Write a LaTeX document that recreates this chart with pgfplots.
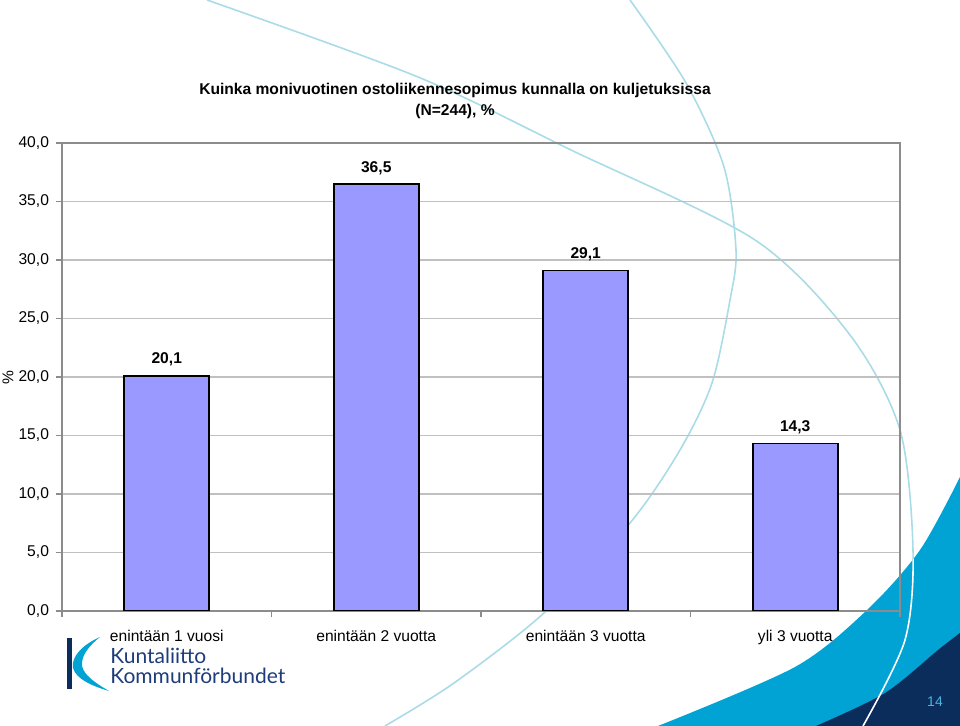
\documentclass[border=0pt]{standalone}
\usepackage{fontspec}
\setmainfont{Liberation Sans}
\newfontfamily\logofont{Lato}
\usepackage{pgfplots}
\usepackage{pgfplotstable}
\pgfplotsset{compat=1.18}
\definecolor{barfill}{HTML}{9999FF}
\definecolor{gridgray}{HTML}{C0C0C0}
\definecolor{axisgray}{HTML}{8C8C8C}
\definecolor{swcyan}{HTML}{00A3D4}
\definecolor{swnavy}{HTML}{0B2D5C}
\definecolor{arcblue}{HTML}{A9DCE6}
\definecolor{logonavy}{HTML}{1E3C7A}
\definecolor{pagenum}{HTML}{4DB3E0}

\pgfplotstableread{
idx val
0 20.1
1 36.5
2 29.1
3 14.3
}\sopimus

\newcommand{\chfont}{\fontsize{7.8}{10.5}\selectfont}

\begin{document}
\begin{tikzpicture}[x=0.5pt,y=0.5pt]
\path[use as bounding box] (0,0) rectangle (960,726);

% slide decoration, pixel coordinates measured from the top
\begin{scope}[shift={(0,726)}, yscale=-1]
\draw[arcblue, line width=0.8pt] plot[smooth] coordinates {(207,0) (418,77) (571,150) (755,240) (850,335) (900,430) (913,550) (905,640) (863,726)};
\draw[arcblue, line width=0.8pt] plot[smooth] coordinates {(630,0) (686,83) (724,167) (736,250) (730,300) (712,383) (680,450) (630,523) (544,613) (454,683) (385,726)};
\fill[swcyan] plot[smooth] coordinates {(658,726) (795,667) (867,610) (920,550) (960,477)} -- (960,726) -- cycle;
\fill[swnavy] plot[smooth] coordinates {(816,726) (885,693) (938,650) (960,633)} -- (960,726) -- cycle;
\begin{scope}
\clip plot[smooth] coordinates {(658,726) (795,667) (867,610) (920,550) (960,477)} -- (960,726) -- cycle;
\draw[white, line width=0.8pt] plot[smooth] coordinates {(207,0) (418,77) (571,150) (755,240) (850,335) (900,430) (913,550) (905,640) (863,726)};
\end{scope}
\node[pagenum, font=\fontsize{7}{8}\selectfont] at (935,702) {14};
% logo
\fill[swnavy] (67,638) rectangle (72,689);
\fill[swcyan] (100,637) .. controls (82,645) and (71,657) .. (73,668) .. controls (76,679) and (92,686) .. (109,691) .. controls (95,683) and (84,675) .. (82,666) .. controls (81,655) and (90,645) .. (100,637) -- cycle;
\node[logonavy, anchor=base west, inner sep=0pt, font=\logofont\fontsize{10.5}{12}\selectfont] at (110,664) {Kuntaliitto};
\node[logonavy, anchor=base west, inner sep=0pt, font=\logofont\fontsize{10.5}{12}\selectfont] at (110,684) {Kommunförbundet};
% title and y label
\node[font=\chfont\bfseries, align=center] at (455,101) {Kuinka monivuotinen ostoliikennesopimus kunnalla on kuljetuksissa\\(N=244), \%};
\node[font=\chfont, rotate=90] at (8,378) {\%};
\end{scope}

\begin{axis}[
  at={(31pt,57.5pt)}, anchor=south west,
  scale only axis, width=419pt, height=234pt,
  xmin=-0.5, xmax=3.5, ymin=0, ymax=40,
  ytick={0,5,...,40},
  xtick={0,1,2,3},
  xticklabels={enintään 1 vuosi, enintään 2 vuotta, enintään 3 vuotta, yli 3 vuotta},
  minor xtick={-0.5,0.5,1.5,2.5,3.5},
  major x tick style={draw=none},
  xtick pos=bottom, ytick pos=left,
  tick align=outside,
  major tick length=3pt, minor tick length=3pt,
  tick style={axisgray, line width=0.6pt},
  axis line style={axisgray, line width=0.8pt},
  ymajorgrids, grid style={gridgray, line width=0.6pt},
  tick label style={font=\chfont},
  xticklabel style={yshift=-3pt},
  /pgf/number format/.cd, fixed, fixed zerofill, precision=1, use comma, assume math mode=true,
  /pgfplots/.cd,
  ybar, bar width=42.5pt,
  nodes near coords,
  nodes near coords style={font=\chfont\bfseries, black, yshift=1pt},
]
\addplot[fill=barfill, draw=black, line width=0.8pt] table[x=idx, y=val] {\sopimus};
\end{axis}
\end{tikzpicture}
\end{document}
